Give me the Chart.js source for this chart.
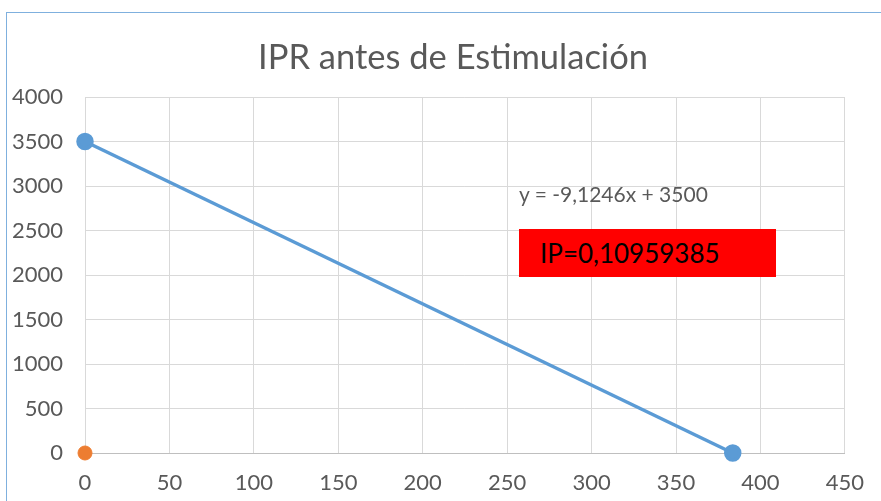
<!DOCTYPE html>
<html>
<head>
<meta charset="utf-8">
<script src="https://cdn.jsdelivr.net/npm/chart.js@4"></script>
<style>
  body { margin: 0; background: #fff; }
  #wrap { position: relative; width: 881px; height: 501px; overflow: hidden; font-family: Lato, sans-serif; }
  #frame { position: absolute; left: 6px; top: 12px; width: 900px; height: 520px; border: 1px solid #7fb0de; box-sizing: border-box; }
  #title { position: absolute; left: 203px; width: 500px; top: 35px; text-align: center; font-size: 34.5px; color: #595959; }
  #eq { position: absolute; left: 519px; top: 181px; font-size: 21px; color: #595959; }
  #ip { position: absolute; left: 519px; top: 229px; width: 257px; height: 48px; background: #ff0000; color: #000; font-size: 26px; line-height: 48px; padding-left: 21px; box-sizing: border-box; }
  canvas { position: absolute; left: 0; top: 0; }
</style>
</head>
<body>
<div id="wrap">
  <div id="frame"></div>
  <canvas id="myChart" width="881" height="501"></canvas>
  <div id="title">IPR antes de Estimulación</div>
  <div id="eq">y = -9,1246x + 3500</div>
  <div id="ip">IP=0,10959385</div>
</div>
<script>
// IPR line (caudal vs presion)
let iprX = [0, 383.6]
let iprY = [3500, 0]
// second series, single point
let ptX = [0]
let ptY = [0]

let xMax = 450
let xStep = 50
let yMax = 4000
let yStep = 500

let toPoints = (xs, ys) => xs.map((x, i) => ({x: x, y: ys[i]}))

new Chart("myChart", {
  type: "scatter",
  data: {
    datasets: [{
      data: toPoints(iprX, iprY),
      showLine: true,
      borderColor: "#5b9bd5",
      backgroundColor: "#5b9bd5",
      borderWidth: 3.5,
      pointRadius: 7,
      pointHoverRadius: 7,
      clip: false
    }, {
      data: toPoints(ptX, ptY),
      borderColor: "#ed7d31",
      backgroundColor: "#ed7d31",
      pointRadius: 7,
      clip: false
    }]
  },
  options: {
    responsive: false,
    animation: false,
    layout: {padding: {top: 97, right: 32, left: 0, bottom: 0}},
    plugins: {
      legend: {display: false},
      tooltip: {enabled: false}
    },
    scales: {
      x: {
        type: "linear",
        min: 0,
        max: xMax,
        afterFit: (s) => { s.height = 48 },
        ticks: {stepSize: xStep, padding: 17, color: "#595959", font: {family: "Lato", size: 22}, callback: (v) => String(v)},
        grid: {color: "#d9d9d9", drawTicks: false},
        border: {color: "#bfbfbf"}
      },
      y: {
        min: 0,
        max: yMax,
        afterFit: (s) => { s.width = 85 },
        ticks: {stepSize: yStep, padding: 22, color: "#595959", font: {family: "Lato", size: 22}, callback: (v) => String(v)},
        grid: {color: "#d9d9d9", drawTicks: false},
        border: {display: false}
      }
    }
  }
})
</script>
</body>
</html>
